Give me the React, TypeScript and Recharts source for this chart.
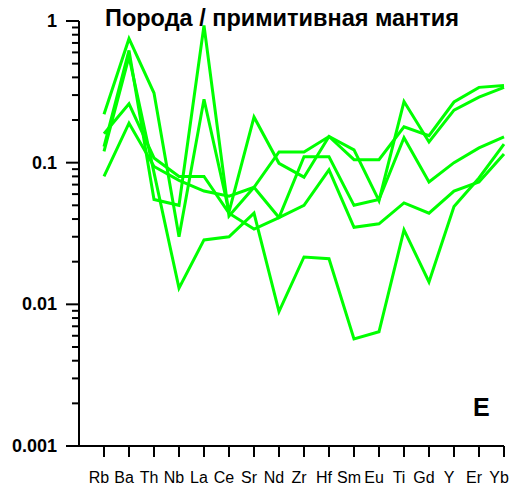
import { Line, LineChart, XAxis, YAxis } from "recharts";

const elements = ["Rb", "Ba", "Th", "Nb", "La", "Ce", "Sr", "Nd", "Zr", "Hf", "Sm", "Eu", "Ti", "Gd", "Y", "Er", "Yb"];

// rock / primitive mantle, five samples
const sampleA = [0.22, 0.75, 0.31, 0.03, 0.28, 0.045, 0.21, 0.099, 0.079, 0.153, 0.123, 0.054, 0.27, 0.14, 0.235, 0.29, 0.34];
const sampleB = [0.13, 0.62, 0.055, 0.05, 0.93, 0.042, 0.067, 0.119, 0.119, 0.153, 0.105, 0.105, 0.179, 0.155, 0.268, 0.34, 0.35];
const sampleC = [0.12, 0.56, 0.085, 0.013, 0.0285, 0.03, 0.044, 0.0089, 0.0216, 0.021, 0.0057, 0.0064, 0.0335, 0.0144, 0.049, 0.078, 0.135];
const sampleD = [0.16, 0.26, 0.108, 0.08, 0.08, 0.044, 0.034, 0.041, 0.11, 0.11, 0.05, 0.055, 0.15, 0.073, 0.1, 0.127, 0.152];
const sampleE = [0.08, 0.19, 0.094, 0.075, 0.063, 0.058, 0.067, 0.041, 0.05, 0.089, 0.035, 0.037, 0.052, 0.044, 0.063, 0.073, 0.115];

const majorTicks = [0.001, 0.01, 0.1, 1];
const majorLabels = ["0.001", "0.01", "0.1", "1"];
const minorSteps = [2, 3, 4, 5, 6, 7, 8, 9];

const title = "Порода / примитивная мантия";
const panelLabel = "E";

const series = [sampleA, sampleB, sampleC, sampleD, sampleE];
const data = elements.map((el, i) => {
  const row: Record<string, number | string> = { x: i + 1, el };
  series.forEach((s, k) => {
    row["s" + k] = s[i];
  });
  return row;
});

const FONT = "'Liberation Sans', Arial, sans-serif";
const W = 520;
const H = 486;
const TOP = 21;
const AXIS_W = 79;
const X_AXIS_H = 40;
const PLOT_BOTTOM = H - X_AXIS_H;
const DECADE_H = (PLOT_BOTTOM - TOP) / (majorTicks.length - 1);

function YTick(props: any) {
  const { y, payload } = props;
  const idx = majorTicks.findIndex((m) => Math.abs(m - payload.value) < 1e-9);
  // minor ticks of the decade above this major tick
  const minors =
    idx < majorTicks.length - 1
      ? minorSteps.map((k) => Number(y) - Math.log10(k) * DECADE_H)
      : [];
  return (
    <g>
      <line x1={AXIS_W - 13} x2={AXIS_W} y1={y} y2={y} stroke="#000" strokeWidth={2} />
      {minors.map((my, j) => (
        <line key={"mn" + j} x1={AXIS_W - 7} x2={AXIS_W} y1={my} y2={my} stroke="#000" strokeWidth={2} />
      ))}
      <text
        x={AXIS_W - 22}
        y={y}
        dy={6}
        textAnchor="end"
        fontFamily={FONT}
        fontWeight="bold"
        fontSize={18}
        fill="#000"
      >
        {majorLabels[idx]}
      </text>
    </g>
  );
}

function XTick(props: any) {
  const { x, payload } = props;
  return (
    <g>
      <line x1={x} x2={x} y1={PLOT_BOTTOM} y2={PLOT_BOTTOM + 11} stroke="#000" strokeWidth={2} />
      <text x={x - 5} y={PLOT_BOTTOM + 37} textAnchor="middle" fontFamily={FONT} fontSize={16} fill="#000">
        {elements[payload.value - 1]}
      </text>
    </g>
  );
}

export default function App() {
  return (
    <div style={{ position: "absolute", left: 0, top: 0, width: W, height: H, background: "#fff" }}>
      <LineChart width={W} height={H} data={data} margin={{ top: TOP, right: 16, left: 0, bottom: 0 }}>
        <XAxis
          dataKey="x"
          type="number"
          domain={[0, 17]}
          ticks={elements.map((_, i) => i + 1)}
          interval={0}
          height={X_AXIS_H}
          axisLine={{ stroke: "#000", strokeWidth: 2 }}
          tickLine={false}
          tick={(p: any) => <XTick {...p} />}
        />
        <YAxis
          scale="log"
          domain={[0.001, 1]}
          allowDataOverflow
          ticks={majorTicks}
          interval={0}
          width={AXIS_W}
          axisLine={{ stroke: "#000", strokeWidth: 2 }}
          tickLine={false}
          tick={(p: any) => <YTick {...p} />}
        />
        {series.map((_, k) => (
          <Line
            key={k}
            type="linear"
            dataKey={"s" + k}
            stroke="#00ff00"
            strokeWidth={3}
            dot={false}
            activeDot={false}
            isAnimationActive={false}
          />
        ))}
      </LineChart>
      <div
        style={{
          position: "absolute",
          left: 105,
          top: 5,
          fontFamily: FONT,
          fontWeight: "bold",
          fontSize: 23.5,
          whiteSpace: "nowrap",
        }}
      >
        {title}
      </div>
      <div
        style={{
          position: "absolute",
          left: 473,
          top: 393,
          fontFamily: FONT,
          fontWeight: "bold",
          fontSize: 25,
        }}
      >
        {panelLabel}
      </div>
    </div>
  );
}
